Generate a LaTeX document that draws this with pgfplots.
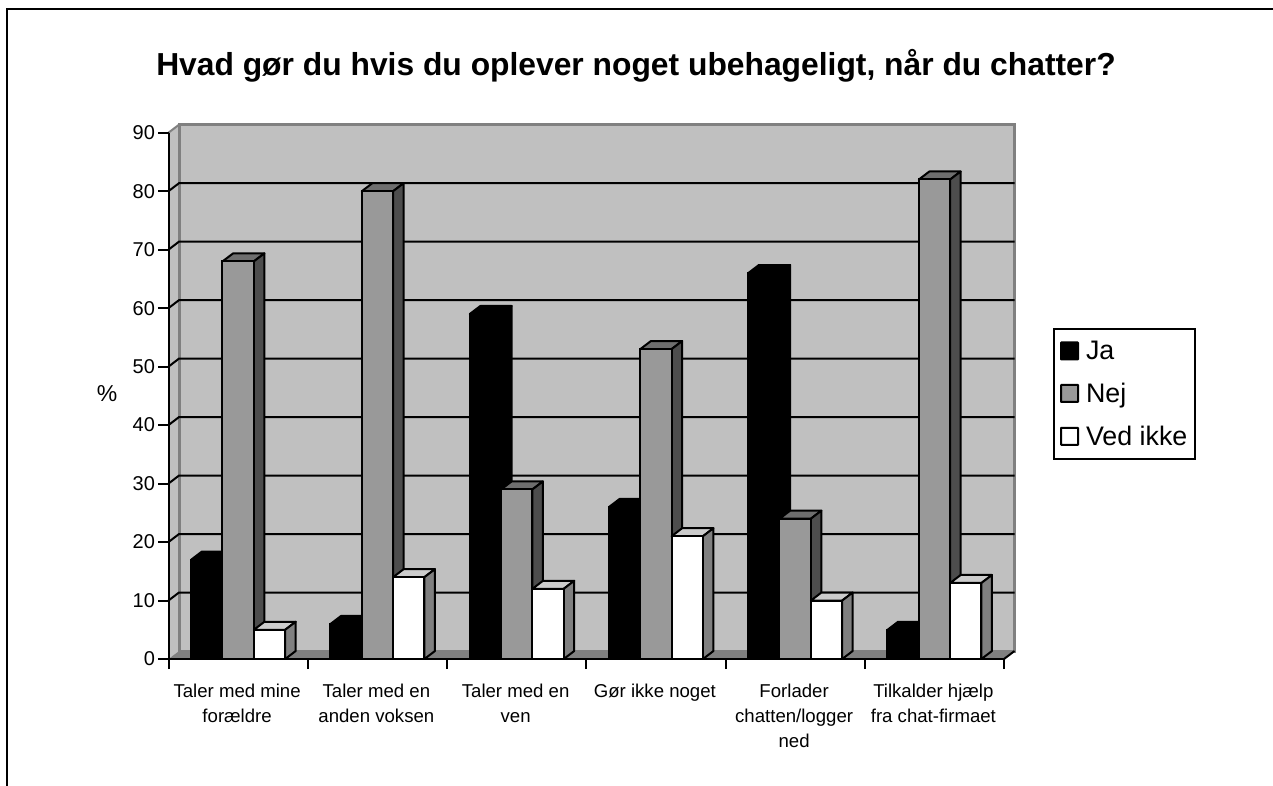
\documentclass[border=0pt]{standalone}
\usepackage{fontspec}
\setmainfont{Liberation Sans}
\usepackage{pgfplots}
\usepackage{pgfplotstable}
\pgfplotsset{compat=1.18}

\definecolor{wall}{HTML}{C0C0C0}
\definecolor{floorc}{HTML}{808080}
\definecolor{nejf}{HTML}{999999}
\definecolor{nejt}{HTML}{6E6E6E}
\definecolor{nejs}{HTML}{4D4D4D}
\definecolor{vedt}{HTML}{CCCCCC}
\definecolor{veds}{HTML}{808080}

% one picture pixel = 1pt
\pgfplotstableread{
g   ja nej ved
0.5 17 68 5
1.5 6  80 14
2.5 59 29 12
3.5 26 53 21
4.5 66 24 10
5.5 5  82 13
}\data

\def\ox{0.0754}  % depth of the box, in x units
\def\oy{1.368}   % depth of the box, in y units
\def\bw{0.2247}  % bar width, in x units

\pgfplotsset{
  swatch/.style={legend image code/.code={
    \draw[fill=#1,draw=black,line width=2pt,rounded corners=0.5pt] (0pt,-8.5pt) rectangle (17pt,8.5pt);}},
}

% top and side of the bars of one series: column, offset in group, edge, top, side
\newcommand\extrude[5]{%
  \pgfplotsforeachungrouped \r in {0,...,5}{%
    \pgfplotstablegetelem{\r}{#1}\of\data
    \pgfmathsetmacro\yf{\pgfplotsretval}%
    \pgfmathsetmacro\yb{\yf+\oy}%
    \pgfmathsetmacro\xa{\r+#2}%
    \pgfmathsetmacro\xb{\xa+\bw}%
    \pgfmathsetmacro\xc{\xa+\ox}%
    \pgfmathsetmacro\xd{\xb+\ox}%
    \edef\cmd{%
      \noexpand\addplot[forget plot,fill=#4,draw=#3,line width=2pt,line join=round] coordinates {(\xa,\yf)(\xc,\yb)(\xd,\yb)(\xb,\yf)} --cycle;
      \noexpand\addplot[forget plot,fill=#5,draw=#3,line width=2pt,line join=round] coordinates {(\xb,0)(\xd,\oy)(\xd,\yb)(\xb,\yf)} --cycle;
    }\cmd
  }%
}

\begin{document}
\begin{tikzpicture}[x=1pt,y=1pt]
\useasboundingbox (0,0) rectangle (1273,785);
\draw[line width=2pt] (7,-5) -- (7,776) -- (1280,776);
\begin{axis}[
    at={(168.5pt,126pt)}, anchor=south west,
    scale only axis, width=835.5pt, height=526.3pt,
    xmin=0, xmax=6, ymin=0, ymax=90,
    clip=false, axis on top,
    axis x line*=bottom, axis y line*=left,
    axis line style={line width=2pt},
    ytick={0,10,...,90},
    xtick={0.5,1.5,2.5,3.5,4.5,5.5},
    minor xtick={0,1,2,3,4,5,6},
    xticklabels={{Taler med mine\\forældre},{Taler med en\\anden voksen},{Taler med en\\ven},{Gør ikke noget},{Forlader\\chatten/logger\\ned},{Tilkalder hjælp\\fra chat-firmaet}},
    xticklabel style={align=center,font=\fontsize{18.6}{25}\selectfont,anchor=north,yshift=-11pt,xshift=-1pt},
    yticklabel style={font=\fontsize{20}{24}\selectfont},
    /pgf/number format/assume math mode=true,
    tick align=outside, tick style={black,line width=2pt},
    major tick length=10pt, minor tick length=10pt,
    major x tick style={draw=none},
    title={\fontsize{31.8}{38}\selectfont\bfseries Hvad gør du hvis du oplever noget ubehageligt, når du chatter?},
    title style={at={(rel axis cs:0.5595,1.115)},anchor=center},
    ylabel={\fontsize{23}{27}\selectfont\%},
    y label style={at={(rel axis cs:-0.0736,0.505)},rotate=-90,anchor=center},
    legend style={at={(rel axis cs:1.0587,0.6289)},anchor=north west,draw=black,line width=2pt,
      font=\fontsize{26.8}{32}\selectfont,row sep=18pt,inner xsep=6pt,inner ysep=10pt,
      /tikz/every odd column/.append style={column sep=5pt},
      /tikz/every even column/.append style={column sep=3pt}},
    legend cell align=left,
]
% walls and floor
\addplot[forget plot,fill=wall,draw=none] coordinates {(0,0)(\ox,\oy)(\ox,91.368)(0,90)} --cycle;
\addplot[forget plot,fill=wall,draw=floorc,line width=3pt] coordinates {(\ox,\oy)(6.0754,\oy)(6.0754,91.368)(\ox,91.368)} --cycle;
\addplot[forget plot,fill=floorc,draw=none] coordinates {(0,0)(\ox,\oy)(6.0754,\oy)(6,0)} --cycle;
\addplot[forget plot,draw=floorc,line width=2pt] coordinates {(0,90)(\ox,91.368)};
\addplot[forget plot,draw=black,line width=2pt] coordinates {(6,0)(6.0754,\oy)};
% gridlines on wall
\pgfplotsforeachungrouped \v in {10,20,...,80}{%
  \pgfmathsetmacro\vb{\v+\oy}%
  \edef\cmd{\noexpand\addplot[forget plot,draw=black,line width=2pt] coordinates {(0,\v)(\ox,\vb)(6.0754,\vb)};}\cmd
}
% bars, series by series: each front covers the side of the one before
\extrude{ja}{0.164}{black}{black}{black}
\addplot[ybar,bar width=31.3pt,bar shift=-31.3pt,fill=black,draw=black,line width=2pt,swatch=black] table[x=g,y=ja] {\data};
\addlegendentry{Ja}
\extrude{nej}{0.3887}{black}{nejt}{nejs}
\addplot[ybar,bar width=31.3pt,bar shift=0pt,fill=nejf,draw=black,line width=2pt,swatch=nejf] table[x=g,y=nej] {\data};
\addlegendentry{Nej}
\extrude{ved}{0.6134}{black}{vedt}{veds}
\addplot[ybar,bar width=31.3pt,bar shift=31.3pt,fill=white,draw=black,line width=2pt,swatch=white] table[x=g,y=ved] {\data};
\addlegendentry{Ved ikke}
\end{axis}
\end{tikzpicture}
\end{document}
